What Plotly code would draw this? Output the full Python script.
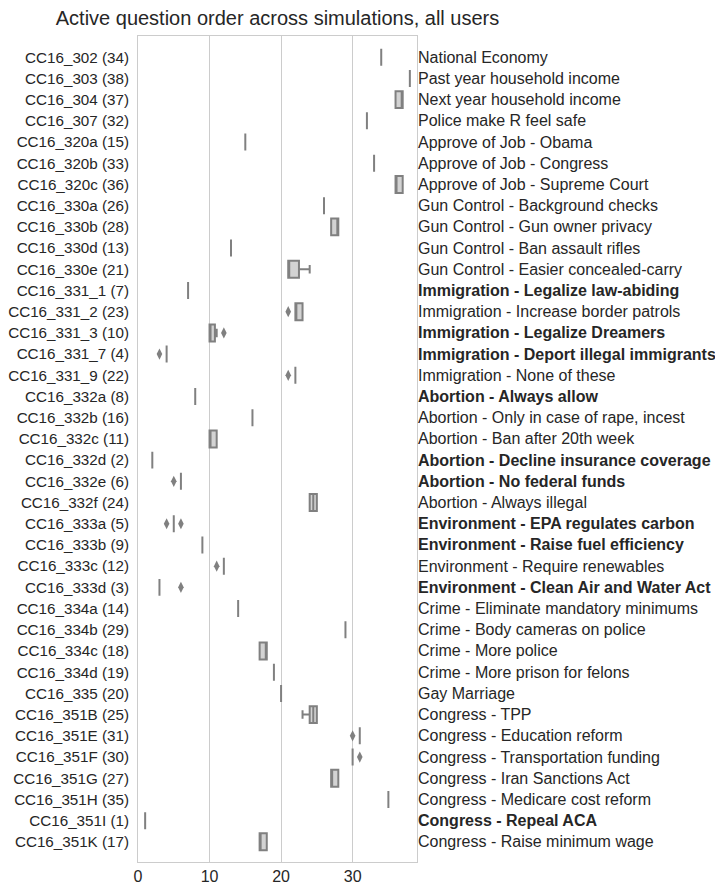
import plotly.graph_objects as go

# ---- data ----
categories = [
    "CC16_302 (34)", "CC16_303 (38)", "CC16_304 (37)", "CC16_307 (32)",
    "CC16_320a (15)", "CC16_320b (33)", "CC16_320c (36)", "CC16_330a (26)",
    "CC16_330b (28)", "CC16_330d (13)", "CC16_330e (21)", "CC16_331_1 (7)",
    "CC16_331_2 (23)", "CC16_331_3 (10)", "CC16_331_7 (4)", "CC16_331_9 (22)",
    "CC16_332a (8)", "CC16_332b (16)", "CC16_332c (11)", "CC16_332d (2)",
    "CC16_332e (6)", "CC16_332f (24)", "CC16_333a (5)", "CC16_333b (9)",
    "CC16_333c (12)", "CC16_333d (3)", "CC16_334a (14)", "CC16_334b (29)",
    "CC16_334c (18)", "CC16_334d (19)", "CC16_335 (20)", "CC16_351B (25)",
    "CC16_351E (31)", "CC16_351F (30)", "CC16_351G (27)", "CC16_351H (35)",
    "CC16_351I (1)", "CC16_351K (17)",
]

question_labels = [
    "National Economy", "Past year household income", "Next year household income",
    "Police make R feel safe", "Approve of Job - Obama", "Approve of Job - Congress",
    "Approve of Job - Supreme Court", "Gun Control - Background checks",
    "Gun Control - Gun owner privacy", "Gun Control - Ban assault rifles",
    "Gun Control - Easier concealed-carry", "Immigration - Legalize law-abiding",
    "Immigration - Increase border patrols", "Immigration - Legalize Dreamers",
    "Immigration - Deport illegal immigrants", "Immigration - None of these",
    "Abortion - Always allow", "Abortion - Only in case of rape, incest",
    "Abortion - Ban after 20th week", "Abortion - Decline insurance coverage",
    "Abortion - No federal funds", "Abortion - Always illegal",
    "Environment - EPA regulates carbon", "Environment - Raise fuel efficiency",
    "Environment - Require renewables", "Environment - Clean Air and Water Act",
    "Crime - Eliminate mandatory minimums", "Crime - Body cameras on police",
    "Crime - More police", "Crime - More prison for felons", "Gay Marriage",
    "Congress - TPP", "Congress - Education reform", "Congress - Transportation funding",
    "Congress - Iran Sanctions Act", "Congress - Medicare cost reform",
    "Congress - Repeal ACA", "Congress - Raise minimum wage",
]

# questions highlighted (bold) in the right-hand labels
highlighted = [
    "Immigration - Legalize law-abiding", "Immigration - Legalize Dreamers",
    "Immigration - Deport illegal immigrants", "Abortion - Always allow",
    "Abortion - Decline insurance coverage", "Abortion - No federal funds",
    "Environment - EPA regulates carbon", "Environment - Raise fuel efficiency",
    "Environment - Clean Air and Water Act", "Congress - Repeal ACA",
]

lower_whisker = [34, 38, 36, 32, 15, 33, 36, 26, 27, 13, 21, 7, 22, 10, 4, 22,
                 8, 16, 10, 2, 6, 24, 5, 9, 12, 3, 14, 29, 17, 19, 20, 23,
                 31, 30, 27, 35, 1, 17]
q1 = [34, 38, 36, 32, 15, 33, 36, 26, 27, 13, 21, 7, 22, 10, 4, 22,
      8, 16, 10, 2, 6, 24, 5, 9, 12, 3, 14, 29, 17, 19, 20, 24,
      31, 30, 27, 35, 1, 17]
median = [34, 38, 37, 32, 15, 33, 36, 26, 28, 13, 21, 7, 22, 10, 4, 22,
          8, 16, 10, 2, 6, 24.5, 5, 9, 12, 3, 14, 29, 18, 19, 20, 24.5,
          31, 30, 27, 35, 1, 17]
q3 = [34, 38, 37, 32, 15, 33, 37, 26, 28, 13, 22.5, 7, 23, 10.75, 4, 22,
      8, 16, 11, 2, 6, 25, 5, 9, 12, 3, 14, 29, 18, 19, 20, 25,
      31, 30, 28, 35, 1, 18]
upper_whisker = [34, 38, 37, 32, 15, 33, 37, 26, 28, 13, 24, 7, 23, 11, 4, 22,
                 8, 16, 11, 2, 6, 25, 5, 9, 12, 3, 14, 29, 18, 19, 20, 25,
                 31, 30, 28, 35, 1, 18]

outlier_categories = ["CC16_331_2 (23)", "CC16_331_3 (10)", "CC16_331_7 (4)",
                      "CC16_331_9 (22)", "CC16_332e (6)", "CC16_333a (5)",
                      "CC16_333a (5)", "CC16_333c (12)", "CC16_333d (3)",
                      "CC16_351E (31)", "CC16_351F (30)"]
outlier_values = [21, 12, 3, 21, 5, 4, 6, 11, 6, 30, 31]

x_ticks = [0, 10, 20, 30]

# ---- styling ----
TEXT = "#262626"
EDGE = "#808080"
FILL = "#d3d3d3"
GRID = "#cccccc"
FONT = "Liberation Sans, Arial, sans-serif"

# the page body has an 8px margin; size the figure so it fits the window
PAGE_OFF = 8
FIG_W, FIG_H = 723 - PAGE_OFF, 888 - PAGE_OFF
PLOT_L, PLOT_R, PLOT_T, PLOT_B = 138, 417, 36, 862  # window pixel coords

fig = go.Figure()

fig.add_trace(go.Box(
    y=categories,
    q1=q1, median=median, q3=q3,
    lowerfence=lower_whisker, upperfence=upper_whisker,
    orientation="h",
    width=0.8,
    whiskerwidth=0.5,
    fillcolor=FILL,
    line=dict(color=EDGE, width=2),
    boxpoints=False,
    showlegend=False,
    hoverinfo="skip",
))

fig.add_trace(go.Scatter(
    x=outlier_values, y=outlier_categories,
    mode="markers",
    marker=dict(symbol="diamond-tall", size=8, color=EDGE),
    showlegend=False, hoverinfo="skip",
))

annotations = []
for cat, lab in zip(categories, question_labels):
    text = f"<b>{lab}</b>" if lab in highlighted else lab
    annotations.append(dict(
        xref="paper", x=1.0, yref="y", y=cat,
        text=text, showarrow=False, xanchor="left", yanchor="middle",
        xshift=-1,
        font=dict(family=FONT, size=16, color=TEXT),
    ))

ml = PLOT_L - PAGE_OFF
mt = PLOT_T - PAGE_OFF
mr = FIG_W - (PLOT_R - PAGE_OFF)
mb = FIG_H - (PLOT_B - PAGE_OFF)

fig.update_layout(
    width=FIG_W, height=FIG_H,
    margin=dict(l=ml, r=mr, t=mt, b=mb, autoexpand=False),
    paper_bgcolor="white", plot_bgcolor="white",
    font=dict(family=FONT, color=TEXT),
    title=dict(
        text="Active question order across simulations, all users",
        x=(ml + (FIG_W - mr)) / 2 / FIG_W, xref="container", xanchor="center",
        y=1 - (18 - PAGE_OFF) / FIG_H, yref="container", yanchor="middle",
        font=dict(family=FONT, size=20, color=TEXT),
    ),
    annotations=annotations,
    xaxis=dict(
        range=[0, 39], tickvals=x_ticks, ticktext=[str(v) for v in x_ticks],
        showgrid=True, gridcolor=GRID, gridwidth=1,
        zeroline=False, showline=True, linecolor=GRID, linewidth=1, mirror=True,
        ticks="", tickfont=dict(family=FONT, size=16, color=TEXT),
    ),
    yaxis=dict(
        type="category", categoryorder="array", categoryarray=categories,
        range=[len(categories) - 0.05, -1.0],
        showgrid=False, zeroline=False,
        showline=True, linecolor=GRID, linewidth=1, mirror=True,
        ticks="", ticklabelstandoff=5,
        tickfont=dict(family=FONT, size=15.2, color=TEXT),
    ),
)

fig.write_html("out.html")
